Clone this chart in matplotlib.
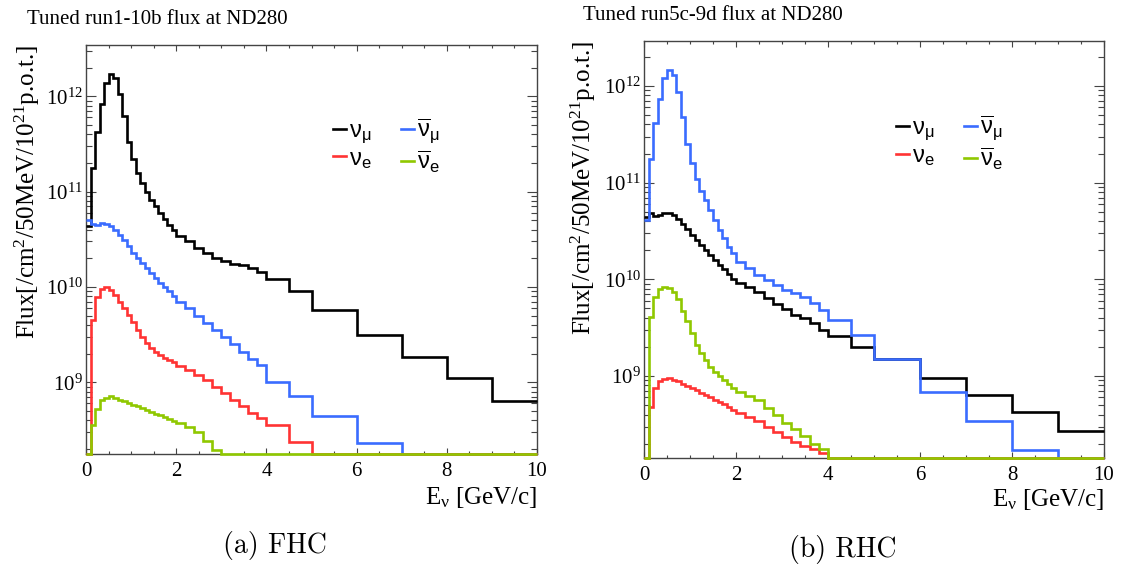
import numpy as np
import matplotlib.pyplot as plt
from matplotlib.lines import Line2D
from matplotlib.ticker import MultipleLocator, LogLocator, NullFormatter

plt.rcParams['font.family'] = ['Liberation Serif', 'DejaVu Serif']
plt.rcParams['mathtext.fontset'] = 'custom'
plt.rcParams['mathtext.rm'] = 'Liberation Serif'
plt.rcParams['mathtext.it'] = 'Liberation Serif:italic'
plt.rcParams['mathtext.sf'] = 'Liberation Sans'

# bin edges in GeV (0.1 up to 2, 0.2 up to 4, then coarse)
bin_edges = [0.0, 0.1, 0.2, 0.3, 0.4, 0.5, 0.6, 0.7, 0.8, 0.9, 1.0,
             1.1, 1.2, 1.3, 1.4, 1.5, 1.6, 1.7, 1.8, 1.9, 2.0,
             2.2, 2.4, 2.6, 2.8, 3.0, 3.2, 3.4, 3.6, 3.8, 4.0,
             4.5, 5.0, 6.0, 7.0, 8.0, 9.0, 10.0]

# FHC (run1-10b)
fhc_numu = [4.4e10, 1.77e11, 4.2e11, 8.2e11, 1.38e12, 1.73e12, 1.56e12, 1.06e12, 6.2e11, 3.3e11,
            2.2e11, 1.57e11, 1.23e11, 9.8e10, 8.2e10, 7.0e10, 6.0e10, 5.1e10, 4.5e10, 4.0e10,
            3.4e10, 3.0e10, 2.55e10, 2.26e10, 2.0e10, 1.85e10, 1.75e10, 1.68e10, 1.57e10, 1.42e10,
            1.21e10, 9.1e9, 5.75e9, 3.14e9, 1.83e9, 1.10e9, 6.4e8]
fhc_numubar = [5.0e10, 4.6e10, 4.5e10, 4.7e10, 4.6e10, 4.4e10, 4.0e10, 3.5e10, 3.1e10, 2.66e10,
               2.26e10, 2.0e10, 1.78e10, 1.57e10, 1.40e10, 1.24e10, 1.11e10, 1.0e10, 9.0e9, 8.1e9,
               7.0e9, 6.0e9, 5.0e9, 4.2e9, 3.55e9, 3.0e9, 2.5e9, 2.1e9, 1.76e9, 1.52e9,
               1.0e9, 7.2e8, 4.4e8, 2.33e8, 0, 0, 0]
fhc_nue = [0, 4.5e9, 7.9e9, 9.5e9, 1.0e10, 9.3e9, 8.3e9, 7.0e9, 6.0e9, 5.1e9,
           4.24e9, 3.55e9, 3.0e9, 2.57e9, 2.28e9, 2.07e9, 1.94e9, 1.82e9, 1.72e9, 1.62e9,
           1.5e9, 1.35e9, 1.19e9, 1.06e9, 9.0e8, 7.7e8, 6.5e8, 5.6e8, 4.8e8, 4.2e8,
           3.56e8, 2.38e8, 0, 0, 0, 0, 0]
fhc_nuebar = [0, 3.6e8, 5.3e8, 6.5e8, 6.9e8, 7.1e8, 6.8e8, 6.5e8, 6.3e8, 6.0e8,
              5.8e8, 5.6e8, 5.35e8, 5.1e8, 4.9e8, 4.7e8, 4.5e8, 4.3e8, 4.1e8, 3.95e8,
              3.7e8, 3.4e8, 3.0e8, 2.4e8, 1.95e8, 0, 0, 0, 0, 0,
              0, 0, 0, 0, 0, 0, 0]

# RHC (run5c-9d)
rhc_numu = [4.45e10, 4.8e10, 4.5e10, 4.6e10, 4.9e10, 4.9e10, 4.6e10, 4.2e10, 3.73e10, 3.29e10,
            2.88e10, 2.55e10, 2.26e10, 2.0e10, 1.78e10, 1.58e10, 1.41e10, 1.27e10, 1.13e10, 1.02e10,
            9.25e9, 8.3e9, 7.34e9, 6.36e9, 5.55e9, 4.9e9, 4.28e9, 3.95e9, 3.57e9, 2.99e9,
            2.6e9, 2.01e9, 1.49e9, 9.46e8, 6.36e8, 4.2e8, 2.7e8]
rhc_numubar = [4.1e10, 1.74e11, 4.1e11, 7.3e11, 1.2e12, 1.47e12, 1.3e12, 8.7e11, 4.8e11, 2.5e11,
               1.58e11, 1.08e11, 8.3e10, 6.6e10, 5.2e10, 4.1e10, 3.24e10, 2.65e10, 2.18e10, 1.86e10,
               1.52e10, 1.3e10, 1.11e10, 9.85e9, 8.7e9, 7.76e9, 7.2e9, 6.6e9, 5.7e9, 4.8e9,
               3.8e9, 2.65e9, 1.49e9, 6.9e8, 3.45e8, 1.71e8, 0]
rhc_nue = [0, 4.8e8, 7.5e8, 8.9e8, 9.3e8, 9.5e8, 9.2e8, 8.8e8, 8.3e8, 7.9e8,
           7.5e8, 7.1e8, 6.7e8, 6.3e8, 6.0e8, 5.7e8, 5.4e8, 5.1e8, 4.8e8, 4.5e8,
           4.1e8, 3.75e8, 3.4e8, 3.0e8, 2.65e8, 2.35e8, 2.1e8, 1.9e8, 1.75e8, 1.6e8,
           0, 0, 0, 0, 0, 0, 0]
rhc_nuebar = [0, 4.1e9, 6.6e9, 7.9e9, 8.3e9, 8.1e9, 7.4e9, 6.2e9, 4.7e9, 3.7e9,
              2.8e9, 2.1e9, 1.72e9, 1.46e9, 1.25e9, 1.11e9, 1.0e9, 9.1e8, 8.3e8, 7.6e8,
              6.9e8, 6.2e8, 5.6e8, 4.7e8, 3.95e8, 3.3e8, 2.85e8, 2.4e8, 2.0e8, 1.75e8,
              0, 0, 0, 0, 0, 0, 0]

labels = [r'$\mathsf{\nu_{\mu}}$', r'$\mathsf{\nu_{e}}$',
          r'$\mathsf{\overline{\nu}_{\mu}}$', r'$\mathsf{\overline{\nu}_{e}}$']
colors = ['black', '#ff3333', '#3a6cff', '#8fc800']

W, H = 1126, 572
fig = plt.figure(figsize=(W / 100, H / 100), dpi=100)


def px_rect(x0, y0, x1, y1):
    return [x0 / W, 1 - y1 / H, (x1 - x0) / W, (y1 - y0) / H]


def draw_panel(ax, numu, nue, numubar, nuebar, ylim, leg_anchor):
    order = [(numu, 0), (numubar, 2), (nue, 1), (nuebar, 3)]
    for vals, i in order:
        v = np.maximum(np.array(vals, dtype=float), ylim[0])
        ax.stairs(v, bin_edges, baseline=None, color=colors[i], lw=1.9,
                  clip_on=False, zorder=3)
    ax.set_yscale('log')
    ax.set_xlim(0, 10)
    ax.set_ylim(*ylim)
    ax.set_xticks([0, 2, 4, 6, 8, 10])
    ax.xaxis.set_minor_locator(MultipleLocator(0.5))
    ax.yaxis.set_major_locator(LogLocator(base=10))
    ax.yaxis.set_minor_locator(LogLocator(base=10, subs=np.arange(2, 10)))
    ax.yaxis.set_minor_formatter(NullFormatter())
    ax.tick_params(which='both', direction='in', top=True, right=True,
                   color='#444444', width=0.8, labelsize=15)
    ax.tick_params(axis='x', which='major', length=4.5, pad=6)
    ax.tick_params(axis='x', which='minor', length=2.5)
    ax.tick_params(axis='y', which='major', length=7.5, pad=2)
    ax.tick_params(axis='y', which='minor', length=4)
    for s in ax.spines.values():
        s.set_color('#444444')
        s.set_linewidth(1.0)
    proxies = [Line2D([], [], color=colors[i], lw=1.9) for i in range(4)]
    ax.legend(proxies, labels, ncol=2, loc='upper left', bbox_to_anchor=leg_anchor,
              frameon=False, fontsize=17, handlelength=0.55, handletextpad=0.12,
              columnspacing=1.25, labelspacing=0.1, borderpad=0, borderaxespad=0)


ax1 = fig.add_axes(px_rect(86, 45, 537, 454))
draw_panel(ax1, fhc_numu, fhc_nue, fhc_numubar, fhc_nuebar, (1.77e8, 3.45e12), (0.548, 0.825))

ax2 = fig.add_axes(px_rect(644, 41, 1104, 458))
draw_panel(ax2, rhc_numu, rhc_nue, rhc_numubar, rhc_nuebar, (1.42e8, 2.92e12), (0.548, 0.825))

ylab = r'Flux[/cm$^{2}$/50MeV/10$^{21}$p.o.t.]'
fig.text(27 / W, 1 - 45 / H, ylab, rotation=90, ha='center', va='top', fontsize=18)
fig.text(583 / W, 1 - 41 / H, ylab, rotation=90, ha='center', va='top', fontsize=18)

xlab = r'E$_{\mathrm{\nu}}$ [GeV/c]'
fig.text(537 / W, 1 - 497 / H, xlab, ha='right', va='center', fontsize=18)
fig.text(1104 / W, 1 - 500 / H, xlab, ha='right', va='center', fontsize=18)

fig.text(27 / W, 1 - 20 / H, 'Tuned run1-10b flux at ND280', ha='left', va='center', fontsize=15)
fig.text(583 / W, 1 - 15 / H, 'Tuned run5c-9d flux at ND280', ha='left', va='center', fontsize=15)

fig.text(275 / W, 1 - 545 / H, '(a) FHC', ha='center', va='center', fontsize=20, family='cmr10')
fig.text(843 / W, 1 - 550 / H, '(b) RHC', ha='center', va='center', fontsize=20, family='cmr10')

fig.savefig('out.png', dpi=100)
